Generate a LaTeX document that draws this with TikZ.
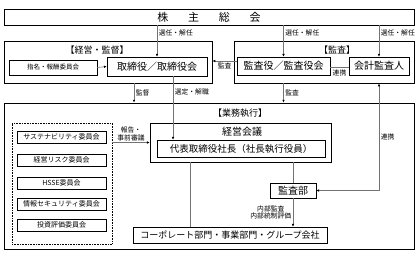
\documentclass[tikz,border=0pt]{standalone}
\usepackage{fontspec}
\setmainfont{Noto Sans CJK JP}
\usetikzlibrary{positioning, arrows.meta}

\tikzset{
  framebox/.style={draw, line width=0.9pt, inner sep=0pt},
  unitbox/.style={draw, line width=0.5pt, inner sep=0pt},
  cmtbox/.style={unitbox, minimum width=89pt, minimum height=12pt, font=\fontsize{7}{8}\selectfont},
  grouptitle/.style={font=\fontsize{9}{10}\selectfont, inner sep=0pt},
  lbl/.style={font=\fontsize{6.8}{7.8}\selectfont, inner sep=1.5pt},
  link/.style={draw=black!55, line width=0.6pt},
  arr/.style={link, -{Latex[length=2.8pt,width=2.6pt,black]}},
  twoarr/.style={link, {Latex[length=2.8pt,width=2.6pt,black]}-{Latex[length=2.8pt,width=2.6pt,black]}}
}

\begin{document}
\begin{tikzpicture}[x=1pt, y=-1pt]
  \useasboundingbox (0,0) rectangle (419,257);

  % shareholders
  \node[unitbox, minimum width=410pt, minimum height=16pt, font=\fontsize{11}{12}\selectfont]
    (shareholders) at (209,17) {株\hspace{1.8em}主\hspace{1.8em}総\hspace{1.8em}会};

  % management / supervision
  \node[framebox, minimum width=208pt, minimum height=42pt] (mgmt) at (108,62) {};
  \node[grouptitle] (mgmttitle) at (97,50) {【経営・監督】};
  \node[unitbox, minimum width=88pt, minimum height=15pt, font=\fontsize{6.5}{7.5}\selectfont]
    (nomcomm) at (53,67.5) {指名・報酬委員会};
  \node[unitbox, minimum width=100pt, minimum height=19pt, font=\fontsize{10}{11}\selectfont]
    (board) at (157,66.5) {取締役／取締役会};

  % audit
  \node[framebox, minimum width=180pt, minimum height=42pt] (audit) at (324,62) {};
  \node[grouptitle] (audittitle) at (337,50) {【監査】};
  \node[unitbox, minimum width=93pt, minimum height=18pt, font=\fontsize{10}{11}\selectfont]
    (auditors) at (283.5,66) {監査役／監査役会};
  \node[unitbox, minimum width=60pt, minimum height=18pt, font=\fontsize{10}{11}\selectfont]
    (accountant) at (379,66) {会計監査人};

  % execution
  \node[framebox, minimum width=410pt, minimum height=146pt] (exec) at (209,176) {};
  \node[grouptitle] (exectitle) at (240,113) {【業務執行】};
  \node[unitbox, minimum width=181pt, minimum height=39pt] (council) at (240.5,142.5) {};
  \node[font=\fontsize{10}{11}\selectfont, inner sep=0pt] (counciltitle) at (242,132) {経営会議};
  \node[unitbox, minimum width=168pt, minimum height=17pt, font=\fontsize{9.5}{10.5}\selectfont]
    (ceo) at (241,148.5) {代表取締役社長（社長執行役員）};
  \node[unitbox, minimum width=46pt, minimum height=15pt, font=\fontsize{10}{11}\selectfont]
    (auditdept) at (293,190.5) {監査部};
  \node[unitbox, minimum width=194pt, minimum height=16pt, font=\fontsize{9}{10}\selectfont]
    (corporate) at (230,235) {コーポレート部門・事業部門・グループ会社};

  % committees
  \node[draw, densely dotted, line width=0.6pt, minimum width=100pt, minimum height=121pt] (committees) at (62,183.5) {};
  \node[cmtbox] (sustain) at (61.5,137) {サステナビリティ委員会};
  \node[cmtbox] (risk) at (61.5,160) {経営リスク委員会};
  \node[cmtbox] (hsse) at (61.5,183) {HSSE委員会};
  \node[cmtbox] (infosec) at (61.5,204) {情報セキュリティ委員会};
  \node[cmtbox] (invest) at (61.5,225) {投資評価委員会};

  % connectors
  \draw[arr] (board.north |- shareholders.south) -- node[lbl, right, pos=0.25] {選任・解任} (board.north);
  \draw[arr] (auditors.north |- shareholders.south) -- node[lbl, right, pos=0.25] {選任・解任} (auditors.north);
  \draw[arr] (accountant.north |- shareholders.south) -- node[lbl, right, pos=0.25] {選任・解任} (accountant.north);
  \draw[arr] (nomcomm.east) -- (board.west);
  \draw[arr] ([yshift=5pt]auditors.west) -- node[lbl, below] {監査} ([yshift=5pt]auditors.west -| mgmt.east);
  \draw[link] ([yshift=-1.5pt]auditors.east) -- node[lbl, below] {連携} ([yshift=-1.5pt]accountant.west);
  \draw[arr] ([xshift=26pt]mgmt.south) -- node[lbl, right] {監督} ([xshift=26pt]mgmt.south |- exec.north);
  \draw[arr] ([xshift=16pt]board.south) -- node[lbl, right, pos=0.25] {選定・解職} ([xshift=16pt]board.south |- ceo.north);
  \draw[arr] (auditors.south |- audit.south) -- node[lbl, right] {監査} (auditors.south |- exec.north);
  \draw[arr] (committees.east |- council.west) -- node[lbl, above, align=center] {報告・\\事前審議} (council.west);
  \draw[link] ([xshift=-50pt]council.south) -- ([xshift=-50pt]council.south |- corporate.north);
  \draw[link] (auditdept.north |- council.south) -- (auditdept.north);
  \draw[arr] (auditdept.south) -- node[lbl, left, align=center] {内部監査\\内部統制評価} (auditdept.south |- corporate.north);
  \draw[twoarr] (auditdept.east) -| node[lbl, right, pos=0.75] {連携} (accountant.south |- audit.south);
\end{tikzpicture}
\end{document}
